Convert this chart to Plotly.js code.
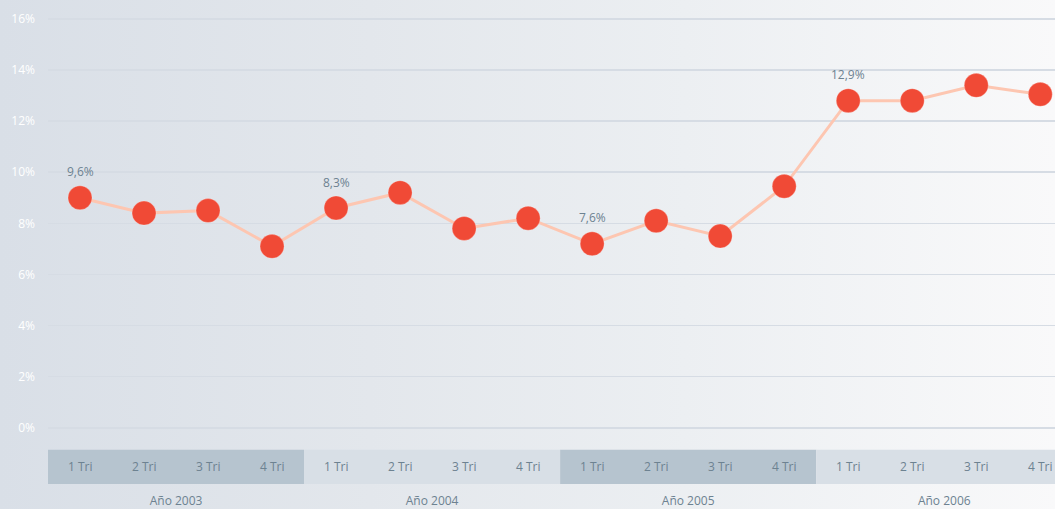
<!DOCTYPE html>
<html>
<head>
<meta charset="utf-8">
<script src="https://cdn.plot.ly/plotly-3.0.1.min.js"></script>
<style>
html,body{margin:0;padding:0;}
body{width:1055px;height:509px;background:linear-gradient(to right,#d9dfe7 0%,#e3e7ec 35%,#eceff2 65%,#f9f9fa 100%);overflow:hidden;}
#chart{width:1055px;height:509px;}
</style>
</head>
<body>
<div id="chart"></div>
<script>
const quarters = ["1 Tri","2 Tri","3 Tri","4 Tri"];
const years = ["Año 2003","Año 2004","Año 2005","Año 2006"];
const values = [9.0, 8.4, 8.5, 7.1, 8.6, 9.2, 7.8, 8.2, 7.2, 8.1, 7.5, 9.45, 12.8, 12.8, 13.4, 13.05];
const labelIndex = [0, 4, 8, 12];
const labelText = ["9,6%", "8,3%", "7,6%", "12,9%"];
const yTicks = [0, 2, 4, 6, 8, 10, 12, 14, 16];

const xs = values.map((v, i) => i);
const textColor = "#6d8291";
const font = "'Open Sans', 'Noto Sans', sans-serif";

const shapes = [];
const annotations = [];
years.forEach((y, k) => {
  shapes.push({
    type: "rect", xref: "x", yref: "y", layer: "below",
    x0: k * 4 - 0.5, x1: k * 4 + 3.5, y0: -0.86, y1: -2.2,
    fillcolor: (k % 2 === 0) ? "#b6c4cf" : "#d8dfe6", line: {width: 0}
  });
  quarters.forEach((q, j) => {
    annotations.push({
      x: k * 4 + j, y: -1.53, xref: "x", yref: "y", text: q, showarrow: false,
      font: {family: font, size: 12, color: textColor}
    });
  });
});
labelIndex.forEach((idx, n) => {
  annotations.push({
    x: idx, y: values[idx], xref: "x", yref: "y", text: labelText[n], showarrow: false,
    yshift: 26, font: {family: font, size: 12, color: textColor}
  });
});

const trace = {
  x: xs, y: values, type: "scatter", mode: "lines+markers",
  line: {color: "#fdc6b1", width: 3},
  marker: {color: "#f04a36", size: 24, line: {color: "rgba(255,255,255,0.25)", width: 1}},
  hoverinfo: "skip"
};

const layout = {
  width: 1055, height: 509,
  margin: {l: 48, r: 0, t: 0, b: 25},
  paper_bgcolor: "rgba(0,0,0,0)", plot_bgcolor: "rgba(0,0,0,0)",
  showlegend: false,
  xaxis: {
    range: [-0.5, 15.23], showgrid: false, zeroline: false, showline: false,
    tickmode: "array", tickvals: [1.5, 5.5, 9.5, 13.5], ticktext: years,
    ticks: "", ticklabelstandoff: 8,
    tickfont: {family: font, size: 12, color: textColor}, fixedrange: true
  },
  yaxis: {
    range: [-2.2, 16.74], showgrid: true, gridcolor: "#d6dce4", gridwidth: 1.5,
    zeroline: false, showline: false,
    tickmode: "array", tickvals: yTicks, ticktext: yTicks.map(v => v + "%"),
    ticks: "", ticklabelstandoff: 12,
    tickfont: {family: font, size: 12, color: "#ffffff"}, fixedrange: true
  },
  shapes: shapes,
  annotations: annotations
};

Plotly.newPlot("chart", [trace], layout, {displayModeBar: false, staticPlot: true});
</script>
</body>
</html>
